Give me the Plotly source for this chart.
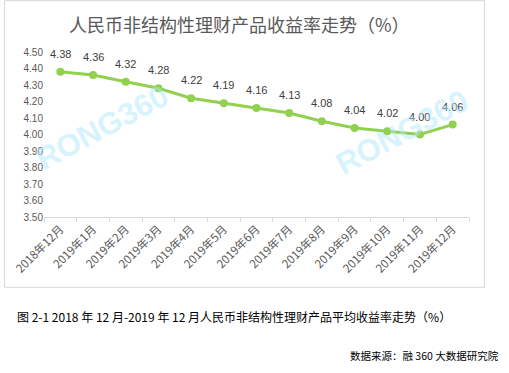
import plotly.graph_objects as go

categories = ["2018年12月", "2019年1月", "2019年2月", "2019年3月", "2019年4月", "2019年5月",
              "2019年6月", "2019年7月", "2019年8月", "2019年9月", "2019年10月", "2019年11月", "2019年12月"]
yields = [4.38, 4.36, 4.32, 4.28, 4.22, 4.19, 4.16, 4.13, 4.08, 4.04, 4.02, 4.00, 4.06]
y_ticks = [3.5, 3.6, 3.7, 3.8, 3.9, 4.0, 4.1, 4.2, 4.3, 4.4, 4.5]
y_tick_labels = ["%.2f" % v for v in y_ticks]

W, H = 509, 373
L, R, T, B = 44, 40, 52, 155.5
PW, PH = W - L - R, H - T - B

def px(x):
    return (x - L) / PW

def py(y):
    return (H - B - y) / PH

CJK = "Noto Sans CJK SC"
LAT = "Liberation Sans, Arial"
fig = go.Figure()
fig.add_trace(go.Scatter(
    x=categories, y=yields, mode="lines+markers",
    line=dict(color="#92d050", width=3),
    marker=dict(color="#92d050", size=8),
    cliponaxis=False, hoverinfo="skip", showlegend=False,
))

for c, v in zip(categories, yields):
    fig.add_annotation(x=c, y=v, text="%.2f" % v, showarrow=False, yshift=18,
                       xanchor="center", yanchor="middle",
                       font=dict(family=LAT, size=11, color="#404040"))

fig.update_layout(
    width=W, height=H, margin=dict(l=L, r=R, t=T, b=B),
    paper_bgcolor="white", plot_bgcolor="white",
    xaxis=dict(type="category", tickangle=-45, showline=True, linecolor="#d9d9d9", linewidth=1,
               ticks="outside", tickcolor="#d9d9d9", ticklen=4, tickson="boundaries",
               showgrid=False, tickfont=dict(family=CJK, size=11.5, color="#595959"),
               range=[-0.5, 12.5], automargin=False),
    yaxis=dict(range=[3.5, 4.5], tickvals=y_ticks, ticktext=y_tick_labels, showgrid=False,
               zeroline=False, showline=False, ticks="", automargin=False,
               tickfont=dict(family=LAT, size=10, color="#595959")),
    shapes=[dict(type="rect", xref="paper", yref="paper", x0=px(4.5), x1=px(484.5),
                 y0=py(288), y1=py(0.5), line=dict(color="#d9d9d9", width=1), layer="below")],
)

annos = [
    dict(text="<b>RONG360</b>", x=px(102), y=py(128), textangle=-28),
    dict(text="<b>RONG360</b>", x=px(402), y=py(133), textangle=-28),
]
for a in annos:
    fig.add_annotation(xref="paper", yref="paper", showarrow=False, xanchor="center", yanchor="middle",
                       font=dict(family=LAT, size=31, color="rgba(175,232,252,0.5)"),
                       **a)

fig.add_annotation(xref="paper", yref="paper", x=px(239), y=py(24), xanchor="center", yanchor="middle",
                   showarrow=False, text="人民币非结构性理财产品收益率走势（%）",
                   font=dict(family=CJK, size=18, color="#595959"))
fig.add_annotation(xref="paper", yref="paper", x=px(15), y=py(317), xanchor="left", yanchor="middle",
                   showarrow=False,
                   text="图 2-1 2018 年 12 月-2019 年 12 月人民币非结构性理财产品平均收益率走势（%）",
                   font=dict(family=CJK, size=12, color="#000000"))
fig.add_annotation(xref="paper", yref="paper", x=px(501), y=py(356), xanchor="right", yanchor="middle",
                   showarrow=False, text="数据来源：融 360 大数据研究院",
                   font=dict(family=CJK, size=10.5, color="#000000"))

fig.write_html("out.html", config={"displayModeBar": False},
               post_script="document.body.style.margin='0';document.body.style.padding='0';")
